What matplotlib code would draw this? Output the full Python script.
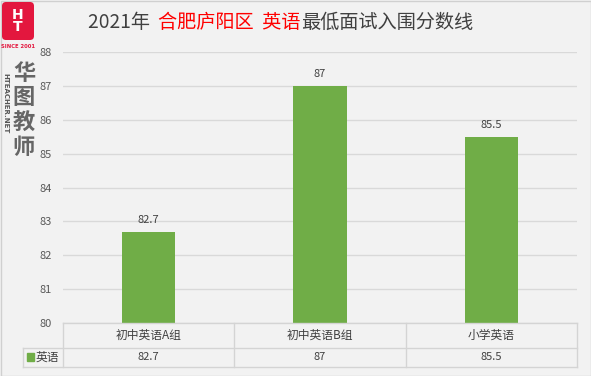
import matplotlib
matplotlib.use("Agg")
import matplotlib.pyplot as plt
from matplotlib.patches import FancyBboxPatch, Rectangle

plt.rcParams['font.family'] = ['Noto Sans CJK SC', 'DejaVu Sans']

# data
categories = ['初中英语A组', '初中英语B组', '小学英语']
values = [82.7, 87, 85.5]
series_name = '英语'
y_ticks = [80, 81, 82, 83, 84, 85, 86, 87, 88]

W, H = 591, 376
bg = '#f2f2f2'
green = '#70ad47'
grid = '#d9d9d9'
txt = '#595959'

fig = plt.figure(figsize=(W / 100, H / 100), dpi=100, facecolor=bg)

# plot area in pixels
px0, px1, py0, py1 = 63, 577, 52, 323
ax = fig.add_axes([px0 / W, 1 - py1 / H, (px1 - px0) / W, (py1 - py0) / H])
ax.set_facecolor(bg)
x = list(range(len(categories)))
bars = ax.bar(x, values, width=0.31, color=green, zorder=3)
ax.set_xlim(-0.5, len(categories) - 0.5)
ax.set_ylim(80, 88)
ax.set_yticks(y_ticks)
ax.set_yticklabels([str(v) for v in y_ticks], fontsize=8, color=txt)
ax.tick_params(axis='y', length=0, pad=8)
ax.set_xticks([])
ax.grid(axis='y', color=grid, lw=1, zorder=0)
for s in ax.spines.values():
    s.set_visible(False)
for xi, v in zip(x, values):
    ax.annotate(f'{v:g}', (xi, v), xytext=(0, 5), textcoords='offset points',
                ha='center', va='bottom', fontsize=8, color='#404040')

# overlay in pixel coordinates for table, title, logo
ov = fig.add_axes([0, 0, 1, 1], facecolor='none')
ov.set_xlim(0, W)
ov.set_ylim(H, 0)
ov.axis('off')

# outer border
ov.add_patch(Rectangle((0.5, 0.5), W - 1, H - 1, fill=False, ec='#d0d0d0', lw=1))

# data table
lc = '#d4d4d4'
col_edges = [px0 + (px1 - px0) * i / len(categories) for i in range(len(categories) + 1)]
r0, r1, r2 = 323, 348, 367
ov.plot([px0, px1], [r0, r0], color=lc, lw=1)
ov.plot([23, px1], [r1, r1], color=lc, lw=1)
ov.plot([23, px1], [r2, r2], color=lc, lw=1)
ov.plot([23, 23], [r1, r2], color=lc, lw=1)
for ce in col_edges:
    ov.plot([ce, ce], [r0, r2], color=lc, lw=1)
for i, (c, v) in enumerate(zip(categories, values)):
    xc = (col_edges[i] + col_edges[i + 1]) / 2
    ov.text(xc, (r0 + r1) / 2, c, ha='center', va='center', fontsize=8.5, color='#404040')
    ov.text(xc, (r1 + r2) / 2, f'{v:g}', ha='center', va='center', fontsize=8, color='#404040')
ov.add_patch(Rectangle((27, 353), 7, 8, color=green))
ov.text(36, (r1 + r2) / 2, series_name, ha='left', va='center', fontsize=8.5, color='#404040')

# title, drawn in pieces to get the red part
title_parts = [('2021年  ', '#404040'), ('合肥庐阳区  英语', '#ff0000'), ('最低面试入围分数线', '#404040')]
xpos = 88
fig.canvas.draw()
r = fig.canvas.get_renderer()
for s, col in title_parts:
    tt = ov.text(xpos, 22, s, ha='left', va='center', fontsize=13.8, color=col)
    bb = tt.get_window_extent(renderer=r)
    xpos += bb.width

# logo
ov.add_patch(FancyBboxPatch((2, 2), 32, 38, boxstyle='round,pad=0,rounding_size=4',
                            fc='#e3173e', ec='none'))
ov.text(18, 21, 'H\nT', ha='center', va='center', fontsize=10, color='white',
        fontweight='bold', linespacing=0.75, family='DejaVu Sans')
ov.text(18, 47, 'SINCE 2001', ha='center', va='center', fontsize=3.8, color='#e3173e',
        fontweight='bold', family='DejaVu Sans')
ov.text(5, 103, 'HTEACHER.NET', ha='center', va='center', fontsize=5, color='#555555',
        rotation=-90, fontweight='bold', family='DejaVu Sans')
for i, ch in enumerate('华图教师'):
    ov.text(24, 73 + i * 25, ch, ha='center', va='center', fontsize=16, color='#666666',
            fontweight='bold')

fig.savefig('out.png', dpi=100, facecolor=bg)
